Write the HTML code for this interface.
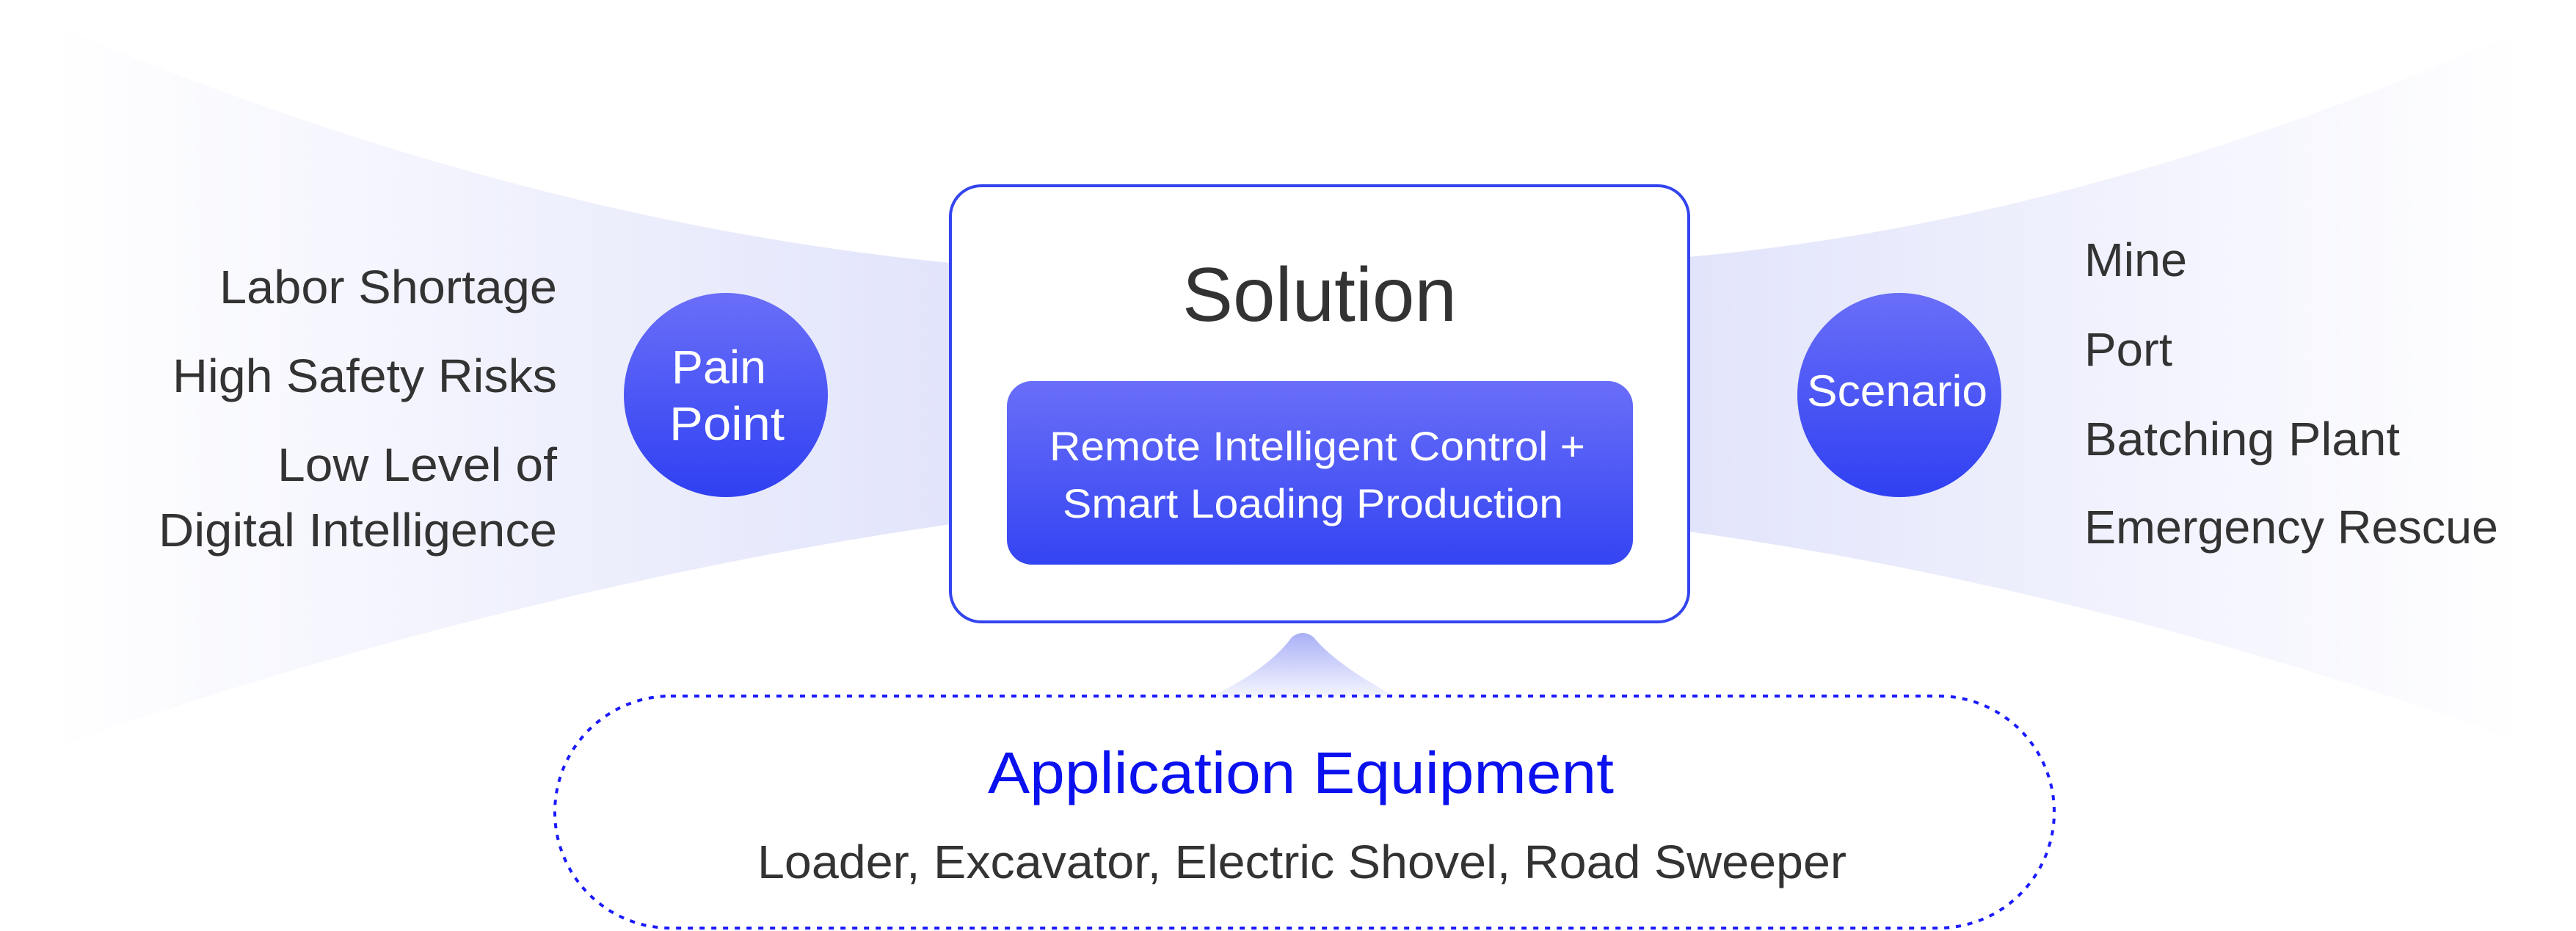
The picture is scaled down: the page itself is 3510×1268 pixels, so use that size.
<!DOCTYPE html>
<html><head><meta charset="utf-8"><style>html,body{margin:0;padding:0;background:#fff}svg{display:block}</style></head>
<body>
<svg width="3510" height="1268" viewBox="0 0 3510 1268" xmlns="http://www.w3.org/2000/svg" font-family="Liberation Sans, sans-serif">
<defs>
<linearGradient id="gl" x1="0" y1="0" x2="1" y2="0"><stop offset="0" stop-color="#ffffff"/><stop offset="1" stop-color="#e2e4fb"/></linearGradient>
<linearGradient id="gr" x1="1" y1="0" x2="0" y2="0"><stop offset="0" stop-color="#ffffff"/><stop offset="1" stop-color="#e2e4fb"/></linearGradient>
<linearGradient id="gc" x1="0" y1="0" x2="0" y2="1"><stop offset="0" stop-color="#6a6ef8"/><stop offset="1" stop-color="#2f40f2"/></linearGradient>
<linearGradient id="gb" x1="0" y1="0" x2="0" y2="1"><stop offset="0" stop-color="#6a6ef8"/><stop offset="1" stop-color="#3344f2"/></linearGradient>
<linearGradient id="gk" x1="0" y1="0" x2="0" y2="1"><stop offset="0" stop-color="#a9b0f6"/><stop offset="1" stop-color="#f4f5fe"/></linearGradient>
</defs>
<path d="M70,32 Q700,300 1295,358 L1295,714 Q700,800 70,1019 Z" fill="url(#gl)"/>
<path d="M3438,40 Q2850,300 2301,350 L2301,724 Q2850,800 3438,1011 Z" fill="url(#gr)"/>
<path d="M1652,948 Q1730,910 1760,868 Q1775,856 1790,868 Q1820,905 1900,948 Z" fill="url(#gk)"/>
<rect x="1295" y="253" width="1006" height="594" rx="42" fill="#fff" stroke="#3344ee" stroke-width="4"/>
<rect x="1372" y="519" width="853" height="250" rx="34" fill="url(#gb)"/>
<text x="1798" y="437" font-size="104" fill="#333" text-anchor="middle" textLength="374" lengthAdjust="spacingAndGlyphs">Solution</text>
<text x="1795" y="627" font-size="56" fill="#fff" text-anchor="middle" textLength="730" lengthAdjust="spacingAndGlyphs">Remote Intelligent Control +</text>
<text x="1789" y="705" font-size="56" fill="#fff" text-anchor="middle" textLength="682" lengthAdjust="spacingAndGlyphs">Smart Loading Production</text>
<g font-size="64" fill="#333" text-anchor="end">
<text x="759" y="413" textLength="460" lengthAdjust="spacingAndGlyphs">Labor Shortage</text>
<text x="759" y="534" textLength="524" lengthAdjust="spacingAndGlyphs">High Safety Risks</text>
<text x="759" y="655" textLength="381" lengthAdjust="spacingAndGlyphs">Low Level of</text>
<text x="759" y="744" textLength="543" lengthAdjust="spacingAndGlyphs">Digital Intelligence</text>
</g>
<circle cx="989" cy="538" r="139" fill="url(#gc)"/>
<text x="915" y="522" font-size="64" fill="#fff" textLength="129" lengthAdjust="spacingAndGlyphs">Pain</text>
<text x="912" y="599" font-size="64" fill="#fff" textLength="157" lengthAdjust="spacingAndGlyphs">Point</text>
<circle cx="2588" cy="538" r="139" fill="url(#gc)"/>
<text x="2462" y="553" font-size="60" fill="#fff" textLength="246" lengthAdjust="spacingAndGlyphs">Scenario</text>
<g font-size="64" fill="#333">
<text x="2840" y="376" textLength="140" lengthAdjust="spacingAndGlyphs">Mine</text>
<text x="2840" y="498" textLength="120" lengthAdjust="spacingAndGlyphs">Port</text>
<text x="2840" y="620" textLength="430" lengthAdjust="spacingAndGlyphs">Batching Plant</text>
<text x="2840" y="740" textLength="564" lengthAdjust="spacingAndGlyphs">Emergency Rescue</text>
</g>
<rect x="756" y="948" width="2043" height="316" rx="158" fill="none" stroke="#1a1aff" stroke-width="4" stroke-dasharray="7 9"/>
<text x="1346" y="1080" font-size="80" fill="#0a10ee" textLength="853" lengthAdjust="spacingAndGlyphs">Application Equipment</text>
<text x="1032" y="1196" font-size="64" fill="#333" textLength="1484" lengthAdjust="spacingAndGlyphs">Loader, Excavator, Electric Shovel, Road Sweeper</text>
</svg>
</body></html>
